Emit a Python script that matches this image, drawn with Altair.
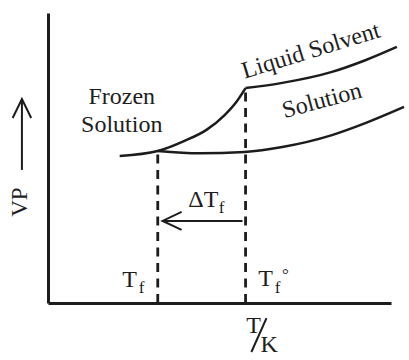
import altair as alt
import pandas as pd

INK = "#1c1c1c"
FONT = "'Liberation Serif', 'Times New Roman', Times, serif"

# Vapour pressure curves (temperature and VP in arbitrary units)
frozen_t = [20.9, 32.0, 39.8, 46.2, 51.5, 54.9, 57.6]
frozen_vp = [50.7, 52.4, 55.9, 59.7, 64.8, 69.3, 74.1]
solvent_t = [57.6, 68.3, 82.8, 92.7, 101.7]
solvent_vp = [74.1, 75.9, 79.7, 83.8, 88.3]
solution_t = [32.0, 44.2, 57.3, 68.3, 82.8, 92.7, 103.8]
solution_vp = [52.4, 51.6, 52.1, 53.8, 57.9, 62.1, 67.6]

# Freezing points of the solution and of the pure solvent
tf = 32.0
tf0 = 57.6
tf_vp = 52.4
tf0_vp = 74.1

# Delta T_f arrow (shaft and chevron head)
dt_shaft_t = [56.7, 33.4]
dt_vp = 28.3
dt_head_t = [38.95, 33.4, 38.95]
dt_head_vp = [31.4, 28.3, 25.2]

# Arrow beside the VP axis title
vp_shaft_vp = [45.9, 70.3]
vp_arrow_t = -7.6
vp_head_t = [-10.3, -7.6, -4.9]
vp_head_vp = [63.8, 70.3, 63.8]

# Slash of the T/K axis label
slash_t = [63.7, 59.3]
slash_vp = [-5.2, -16.9]

# Text labels
label_text = ["Frozen", "Solution", "Liquid Solvent", "Solution", "\u0394T", "f",
              "T", "f", "T", "f", "\u00b0", "T", "K", "VP"]
label_t = [21.5, 21.5, 76.7, 79.9, 45.3, 50.6, 23.8, 27.3, 63.4, 66.9, 69.2, 59.9, 64.5, -8.1]
label_vp = [71.0, 61.4, 86.9, 69.7, 35.5, 32.8, 7.9, 5.2, 8.3, 5.2, 9.7, -7.9, -14.5, 34.8]
label_size = [24, 24, 24, 24, 24, 17, 24, 17, 24, 17, 17, 24, 24, 23]
label_angle = [0, 0, 343, 345, 0, 0, 0, 0, 0, 0, 0, 0, 0, 270]

x_scale = alt.Scale(domain=[0, 100], nice=False, zero=False)
y_scale = alt.Scale(domain=[0, 100], nice=False, zero=False)
x_axis = alt.Axis(title=None, labels=False, ticks=False, grid=False,
                  domainWidth=3, domainColor=INK)
y_axis = alt.Axis(title=None, labels=False, ticks=False, grid=False,
                  domainWidth=3, domainColor=INK)

X = alt.X("t:Q", scale=x_scale, axis=x_axis)
Y = alt.Y("vp:Q", scale=y_scale, axis=y_axis)


def seg(ts, vps, group):
    return pd.DataFrame({"t": ts, "vp": vps, "g": group, "o": list(range(len(ts)))})


curves = pd.concat([
    seg(frozen_t, frozen_vp, "frozen"),
    seg(solvent_t, solvent_vp, "solvent"),
    seg(solution_t, solution_vp, "solution"),
])
curve_layer = alt.Chart(curves).mark_line(
    color=INK, strokeWidth=2.5, interpolate="monotone", clip=False
).encode(x=X, y=Y, detail="g:N", order="o:Q")

dashes = pd.concat([
    seg([tf, tf], [0, tf_vp], "tf"),
    seg([tf0, tf0], [0, tf0_vp], "tf0"),
])
dash_layer = alt.Chart(dashes).mark_line(
    color=INK, strokeWidth=2.8, strokeDash=[9, 6.5]
).encode(x=X, y=Y, detail="g:N", order="o:Q")

arrows = pd.concat([
    seg(dt_shaft_t, [dt_vp, dt_vp], "dt_shaft"),
    seg(dt_head_t, dt_head_vp, "dt_head"),
    seg([vp_arrow_t, vp_arrow_t], vp_shaft_vp, "vp_shaft"),
    seg(vp_head_t, vp_head_vp, "vp_head"),
    seg(slash_t, slash_vp, "slash"),
])
arrow_layer = alt.Chart(arrows).mark_line(
    color=INK, strokeWidth=2.0, clip=False
).encode(x=X, y=Y, detail="g:N", order="o:Q")

labels = pd.DataFrame({
    "text": label_text, "t": label_t, "vp": label_vp,
    "size": label_size, "angle": label_angle,
})
text_layer = alt.Chart(labels).mark_text(
    font=FONT, color="#1e1e1e", align="center", baseline="middle", clip=False
).encode(
    x=X,
    y=Y,
    text="text:N",
    size=alt.Size("size:Q", scale=None, legend=None),
    angle=alt.Angle("angle:Q", scale=None),
)

chart = alt.layer(curve_layer, dash_layer, arrow_layer, text_layer).properties(
    width=343,
    height=290,
    padding={"left": 48, "top": 13, "right": 18, "bottom": 57},
    autosize=alt.AutoSizeParams(type="none"),
    background="white",
).configure_view(stroke=None)

chart.save("out.html", embed_options={"renderer": "svg", "actions": False})
